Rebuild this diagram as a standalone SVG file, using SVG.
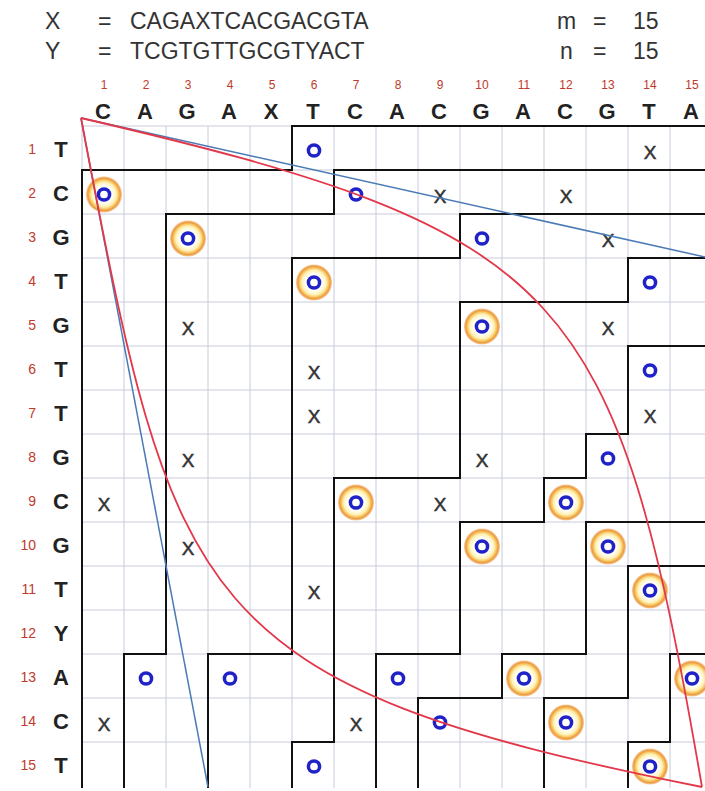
<svg xmlns="http://www.w3.org/2000/svg" xmlns:xlink="http://www.w3.org/1999/xlink" width="705" height="791" viewBox="0 0 705 791">
<style>
text{font-family:"Liberation Sans",Arial,sans-serif}
.hd{font-size:23px;fill:#333}
.cn{font-size:12px;fill:#c0392b;text-anchor:middle}
.rn{font-size:14px;fill:#c0392b;text-anchor:end}
.lt{font-size:22px;font-weight:bold;fill:#222;text-anchor:middle}
.xm{font-size:19px;fill:#333;stroke:#333;stroke-width:0.5;text-anchor:middle}
.grid{fill:none;stroke:#c8cbdc;stroke-width:1}
.ct{fill:none;stroke:#111;stroke-width:2}
.bl{stroke:#4a7ab5;stroke-width:1.5;fill:none}
.rd{stroke:#e2384a;stroke-width:1.8;fill:none}
</style>
<defs>
<radialGradient id="glow">
<stop offset="0" stop-color="#ffffff"/>
<stop offset="0.5" stop-color="#fffdf0"/>
<stop offset="0.68" stop-color="#fff2b4"/>
<stop offset="0.8" stop-color="#f7c868"/>
<stop offset="0.9" stop-color="#ec9a3c"/>
<stop offset="1" stop-color="#f6cda6"/>
</radialGradient>
<g id="o"><circle r="5.6" fill="none" stroke="#1f22c8" stroke-width="3.5"/></g>
<g id="oo"><circle r="18" fill="url(#glow)"/><use href="#o" xlink:href="#o"/></g>
</defs>
<rect width="705" height="791" fill="#fff"/>
<g id="header">
<text class="hd" x="45" y="29">X</text><text class="hd" x="98" y="29">=</text><text class="hd" x="130" y="29">CAGAXTCACGACGTA</text>
<text class="hd" x="45" y="59">Y</text><text class="hd" x="98" y="59">=</text><text class="hd" x="130" y="59">TCGTGTTGCGTYACT</text>
<text class="hd" x="557" y="29">m</text><text class="hd" x="593" y="29">=</text><text class="hd" x="633" y="29">15</text>
<text class="hd" x="560" y="59">n</text><text class="hd" x="593" y="59">=</text><text class="hd" x="633" y="59">15</text>
</g>
<g id="column-labels">
<text class="cn" x="104" y="89">1</text><text class="cn" x="146" y="89">2</text><text class="cn" x="188" y="89">3</text><text class="cn" x="230" y="89">4</text><text class="cn" x="272" y="89">5</text><text class="cn" x="314" y="89">6</text><text class="cn" x="356" y="89">7</text><text class="cn" x="398" y="89">8</text><text class="cn" x="440" y="89">9</text><text class="cn" x="482" y="89">10</text><text class="cn" x="524" y="89">11</text><text class="cn" x="566" y="89">12</text><text class="cn" x="608" y="89">13</text><text class="cn" x="650" y="89">14</text><text class="cn" x="692" y="89">15</text>
<text class="lt" x="103" y="118.5">C</text><text class="lt" x="145" y="118.5">A</text><text class="lt" x="187" y="118.5">G</text><text class="lt" x="229" y="118.5">A</text><text class="lt" x="271" y="118.5">X</text><text class="lt" x="313" y="118.5">T</text><text class="lt" x="355" y="118.5">C</text><text class="lt" x="397" y="118.5">A</text><text class="lt" x="439" y="118.5">C</text><text class="lt" x="481" y="118.5">G</text><text class="lt" x="523" y="118.5">A</text><text class="lt" x="565" y="118.5">C</text><text class="lt" x="607" y="118.5">G</text><text class="lt" x="649" y="118.5">T</text><text class="lt" x="691" y="118.5">A</text>
</g>
<g id="row-labels">
<text class="rn" x="36" y="153.5">1</text><text class="lt" x="61" y="157">T</text>
<text class="rn" x="36" y="197.5">2</text><text class="lt" x="61" y="201">C</text>
<text class="rn" x="36" y="241.5">3</text><text class="lt" x="61" y="245">G</text>
<text class="rn" x="36" y="285.5">4</text><text class="lt" x="61" y="289">T</text>
<text class="rn" x="36" y="329.5">5</text><text class="lt" x="61" y="333">G</text>
<text class="rn" x="36" y="373.5">6</text><text class="lt" x="61" y="377">T</text>
<text class="rn" x="36" y="417.5">7</text><text class="lt" x="61" y="421">T</text>
<text class="rn" x="36" y="461.5">8</text><text class="lt" x="61" y="465">G</text>
<text class="rn" x="36" y="505.5">9</text><text class="lt" x="61" y="509">C</text>
<text class="rn" x="36" y="549.5">10</text><text class="lt" x="61" y="553">G</text>
<text class="rn" x="36" y="593.5">11</text><text class="lt" x="61" y="597">T</text>
<text class="rn" x="36" y="637.5">12</text><text class="lt" x="61" y="641">Y</text>
<text class="rn" x="36" y="681.5">13</text><text class="lt" x="61" y="685">A</text>
<text class="rn" x="36" y="725.5">14</text><text class="lt" x="61" y="729">C</text>
<text class="rn" x="36" y="769.5">15</text><text class="lt" x="61" y="773">T</text>
</g>
<path id="grid" class="grid" d="M82,126V788M124,126V788M166,126V788M208,126V788M250,126V788M292,126V788M334,126V788M376,126V788M418,126V788M460,126V788M502,126V788M544,126V788M586,126V788M628,126V788M670,126V788M82,126H705M82,170H705M82,214H705M82,258H705M82,302H705M82,346H705M82,390H705M82,434H705M82,478H705M82,522H705M82,566H705M82,610H705M82,654H705M82,698H705M82,742H705"/>
<g id="markers">
<use href="#o" xlink:href="#o" x="314" y="150.5"/>
<text class="xm" x="650" y="159">X</text>
<use href="#oo" xlink:href="#oo" x="104" y="194.5"/>
<use href="#o" xlink:href="#o" x="356" y="194.5"/>
<text class="xm" x="440" y="203">X</text>
<text class="xm" x="566" y="203">X</text>
<use href="#oo" xlink:href="#oo" x="188" y="238.5"/>
<use href="#o" xlink:href="#o" x="482" y="238.5"/>
<text class="xm" x="608" y="247">X</text>
<use href="#oo" xlink:href="#oo" x="314" y="282.5"/>
<use href="#o" xlink:href="#o" x="650" y="282.5"/>
<text class="xm" x="188" y="335">X</text>
<use href="#oo" xlink:href="#oo" x="482" y="326.5"/>
<text class="xm" x="608" y="335">X</text>
<text class="xm" x="314" y="379">X</text>
<use href="#o" xlink:href="#o" x="650" y="370.5"/>
<text class="xm" x="314" y="423">X</text>
<text class="xm" x="650" y="423">X</text>
<text class="xm" x="188" y="467">X</text>
<text class="xm" x="482" y="467">X</text>
<use href="#o" xlink:href="#o" x="608" y="458.5"/>
<text class="xm" x="104" y="511">X</text>
<use href="#oo" xlink:href="#oo" x="356" y="502.5"/>
<text class="xm" x="440" y="511">X</text>
<use href="#oo" xlink:href="#oo" x="566" y="502.5"/>
<text class="xm" x="188" y="555">X</text>
<use href="#oo" xlink:href="#oo" x="482" y="546.5"/>
<use href="#oo" xlink:href="#oo" x="608" y="546.5"/>
<text class="xm" x="314" y="599">X</text>
<use href="#oo" xlink:href="#oo" x="650" y="590.5"/>
<use href="#o" xlink:href="#o" x="146" y="678.5"/>
<use href="#o" xlink:href="#o" x="230" y="678.5"/>
<use href="#o" xlink:href="#o" x="398" y="678.5"/>
<use href="#oo" xlink:href="#oo" x="524" y="678.5"/>
<use href="#oo" xlink:href="#oo" x="692" y="678.5"/>
<text class="xm" x="104" y="731">X</text>
<text class="xm" x="356" y="731">X</text>
<use href="#o" xlink:href="#o" x="440" y="722.5"/>
<use href="#oo" xlink:href="#oo" x="566" y="722.5"/>
<use href="#o" xlink:href="#o" x="314" y="766.5"/>
<use href="#oo" xlink:href="#oo" x="650" y="766.5"/>
</g>
<g id="connectors">
<g id="contours">
<path class="ct" d="M705,126H292V170H82V788"/>
<path class="ct" d="M705,170H334V214H166V654H124V788"/>
<path class="ct" d="M705,214H460V258H292V654H208V788"/>
<path class="ct" d="M705,258H628V302H460V478H334V742H292V788"/>
<path class="ct" d="M705,346H628V434H586V478H544V522H460V654H376V788"/>
<path class="ct" d="M705,522H586V654H502V698H418V788"/>
<path class="ct" d="M705,566H628V698H544V788"/>
<path class="ct" d="M705,654H670V742H628V788"/>
</g>
<g id="bounds">
<path class="bl" d="M81,118L705,257"/>
<path class="bl" d="M81,118L208,787"/>
<path class="rd" d="M81,118C570,232 616,287 702,787"/>
<path class="rd" d="M81,118C173.6,608 192,685 702,787"/>
</g>
</g>
</svg>
